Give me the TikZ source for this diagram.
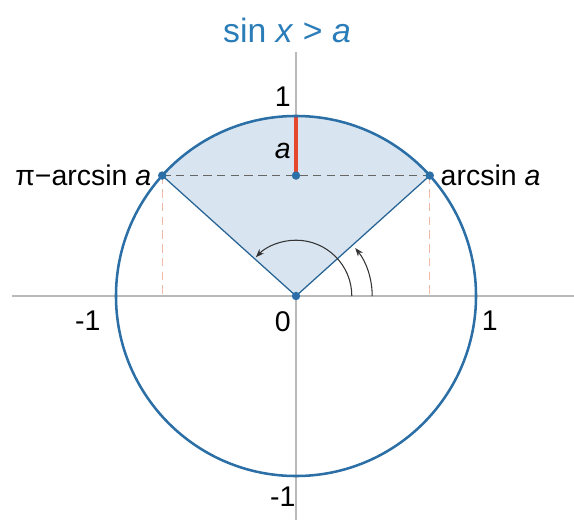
\documentclass[tikz,border=0pt]{standalone}
\usepackage{fontspec}
\setmainfont{Liberation Sans}
\usetikzlibrary{arrows.meta}
\definecolor{circblue}{HTML}{2B6FA6}
\definecolor{titleblue}{HTML}{2A7DB8}
\definecolor{sectorfill}{HTML}{D8E5F0}
\definecolor{segred}{HTML}{E5482C}
\definecolor{droppink}{HTML}{F0B9A8}
\tikzset{
  axis/.style={gray!55, line width=0.5pt},
  edge/.style={circblue!90!black, line width=0.6pt},
  chord/.style={gray!80!black, dashed, dash pattern=on 4pt off 2.5pt, line width=0.6pt},
  drop/.style={droppink, dashed, dash pattern=on 4pt off 2.5pt, line width=0.6pt},
  dot/.style={circle, fill=circblue, inner sep=0pt, minimum size=4pt},
  angarc/.style={black!80, line width=0.5pt, -{Stealth[length=4pt,width=3pt]}},
  lbl/.style={inner sep=1pt}
}
\begin{document}
\begin{tikzpicture}[font=\fontsize{13.5}{16}\selectfont]
        \useasboundingbox (-4.933,-3.733) rectangle (4.633,4.933);
        % Axes
        \coordinate (xl) at (-4.73,0);
        \coordinate (xr) at (4.633,0);
        \coordinate (yb) at (0,-3.733);
        \coordinate (yt) at (0,4.07);
        \draw[axis] (xl) -- (xr);
        \draw[axis] (yb) -- (yt);

        % Points on the circle
        \coordinate (O) at (0,0);
        \coordinate (A) at (42:3);
        \coordinate (B) at (138:3);
        \coordinate (T) at (90:3);
        \coordinate (M) at (O |- A);
        \coordinate (Ax) at (A |- O);
        \coordinate (Bx) at (B |- O);

        % Sector
        \fill[sectorfill] (O) -- (A) arc[start angle=42, end angle=138, radius=3] -- cycle;
        \draw[edge] (B) -- (O) -- (A);

        % Dashed lines
        \draw[drop] (A) -- (Ax);
        \draw[drop] (B) -- (Bx);
        \draw[chord] (B) -- (A);
        \draw[segred, line width=1.6pt] (M) -- (T);

        % Unit circle
        \draw[circblue, line width=1.2pt] (O) circle[radius=3];

        % Angles
        \coordinate (r1) at (1.27,0);
        \coordinate (r2) at (0.93,0);
        \draw[angarc] (r1) arc[start angle=0, end angle=39, radius=1.27];
        \draw[angarc] (r2) arc[start angle=0, end angle=136, radius=0.93];

        % Dots
        \node[dot] (dotA) at (A) {};
        \node[dot] (dotB) at (B) {};
        \node[dot] (dotM) at (M) {};
        \node[dot] (dotO) at (O) {};

        % Labels
        \node[font=\fontsize{16}{19}\selectfont, text=titleblue] (title) at (-0.15,4.43) {sin \textit{x} > \textit{a}};
        \node[lbl] (one) at (-0.22,3.32) {1};
        \node[lbl] (lbla) at (-0.22,2.42) {\textit{a}};
        \node[lbl, anchor=west] (asin) at ([xshift=4pt]A) {arcsin \textit{a}};
        \node[lbl, anchor=east] (piasin) at ([xshift=-4pt]B) {π−arcsin \textit{a}};
        \node[lbl] (zero) at (-0.22,-0.43) {0};
        \node[lbl] (mone) at (-3.47,-0.42) {-1};
        \node[lbl] (pone) at (3.23,-0.42) {1};
        \node[lbl] (mbot) at (-0.22,-3.35) {-1};
\end{tikzpicture}
\end{document}
